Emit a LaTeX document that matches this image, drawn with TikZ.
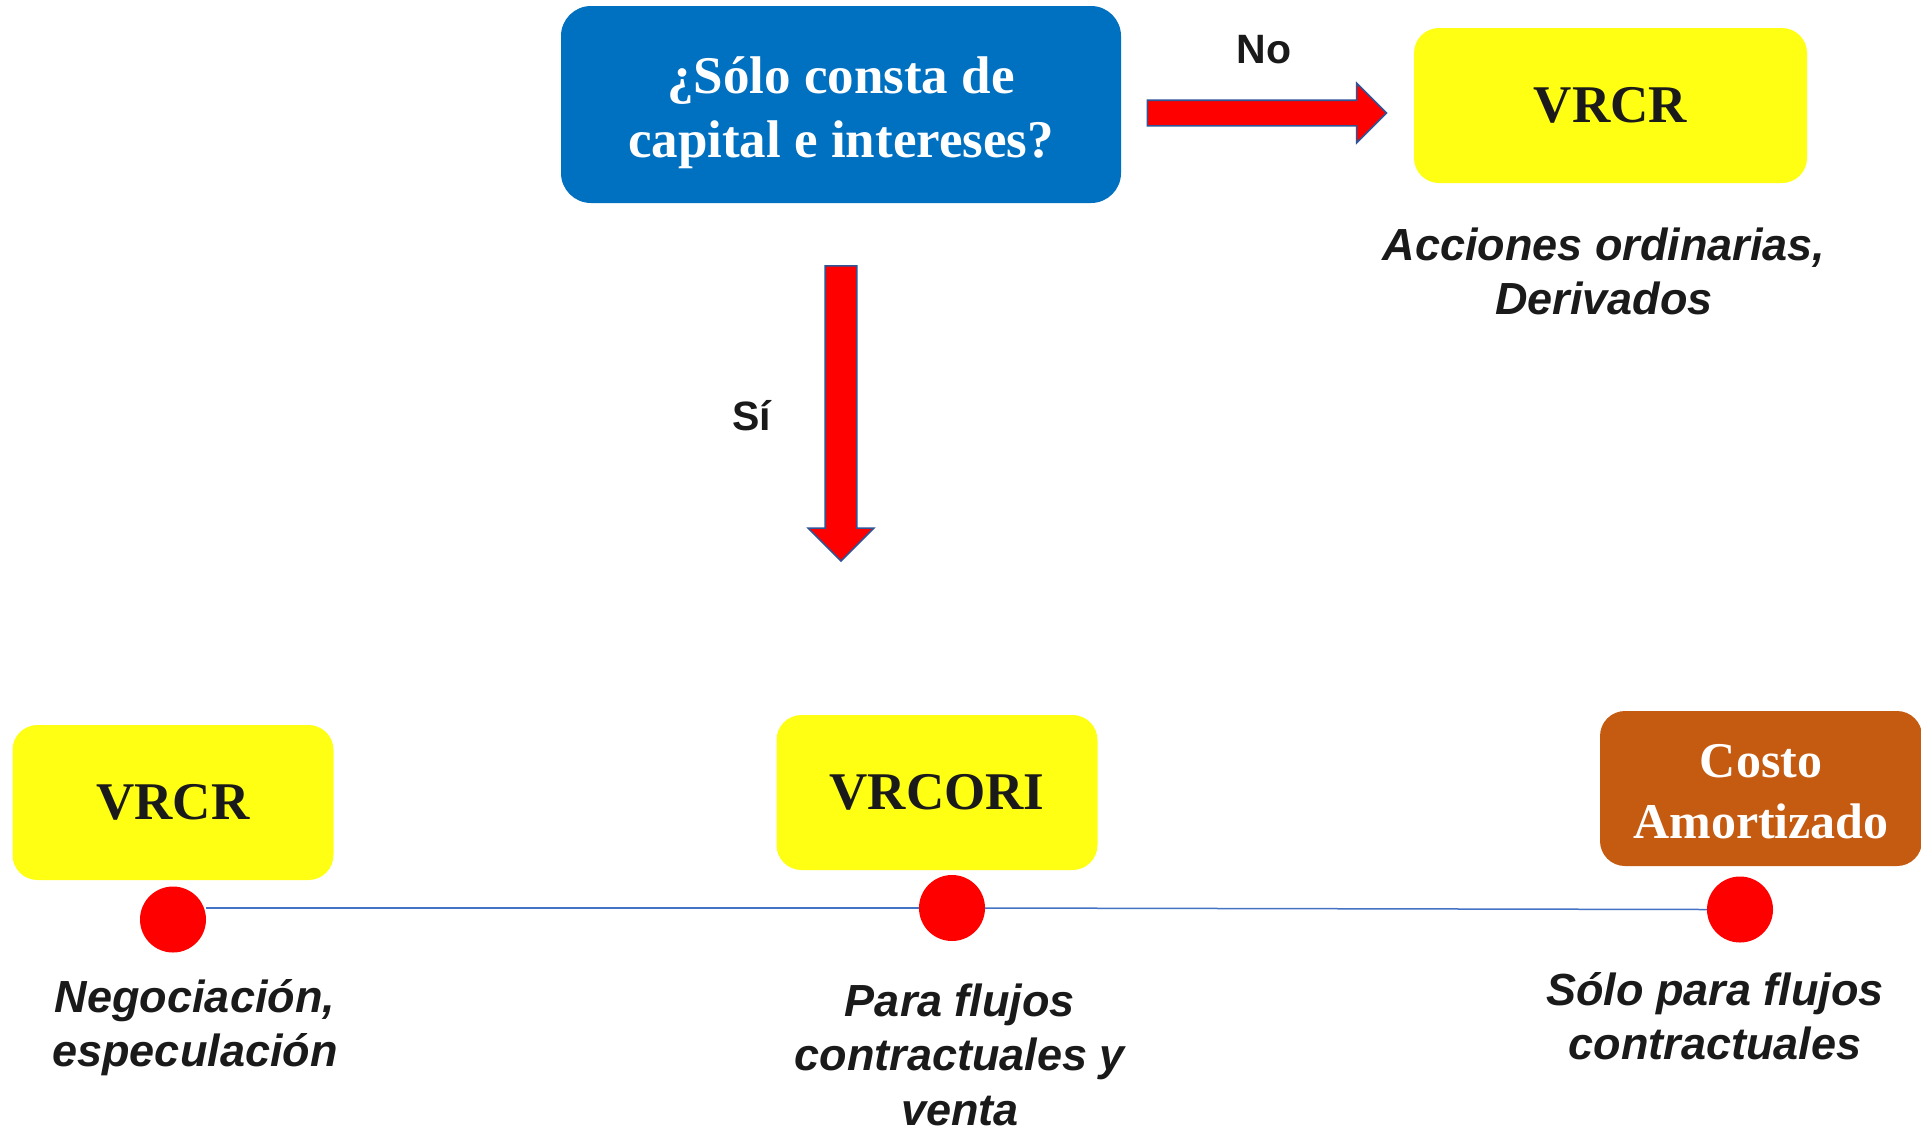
\documentclass[tikz,border=0pt]{standalone}
\usepackage{fontspec}
\setmainfont{Liberation Serif}
\newfontfamily\arialfont{Liberation Sans}
\usetikzlibrary{shapes.arrows}
\definecolor{qblue}{HTML}{0070C0}
\definecolor{vyellow}{RGB}{255,255,20}
\definecolor{cbrown}{HTML}{C55A11}
\definecolor{txt}{HTML}{1A1A1A}
\definecolor{tlinecol}{HTML}{4472C4}
\definecolor{aborder}{HTML}{2F5597}
\newcommand{\mylines}[1]{\begin{tabular}[t]{@{}c@{}}#1\end{tabular}}
\begin{document}
\begin{tikzpicture}[x=1pt,y=-1pt,
  boxbase/.style={rectangle, rounded corners=25pt, inner sep=0pt, minimum height=155pt},
  ybox/.style={boxbase, fill=vyellow, minimum width=321pt, text=txt,
    font=\fontsize{53}{59}\selectfont\bfseries},
  bbox/.style={boxbase, fill=cbrown, minimum width=322pt},
  qbox/.style={rectangle, rounded corners=30pt, fill=qblue, minimum width=560pt, minimum height=197pt},
  boxtxt/.style={inner sep=0pt, anchor=base, text=white},
  lbl/.style={font=\arialfont\fontsize{45}{54.5}\selectfont\bfseries\itshape, text=txt, inner sep=0pt, anchor=base},
  yn/.style={font=\arialfont\fontsize{41}{49}\selectfont\bfseries, text=txt, inner sep=0pt, anchor=base},
  dot/.style={circle, fill=red, minimum size=66pt, inner sep=0pt},
  blockarrow/.style={single arrow, fill=red, draw=aborder, line width=1.6pt},
  tl/.style={draw=tlinecol, line width=1.5pt}
]
\useasboundingbox (0,0) rectangle (1921,1128);
\fill[white] (0,0) rectangle (1921,1128);

% question
\node[qbox] (q) at (841,104.5) {};
\node[boxtxt, font=\fontsize{53}{64}\selectfont\bfseries] (qt) at (841,93) {\mylines{¿Sólo consta de\\capital e intereses?}};

% No branch
\node[blockarrow, inner sep=12pt, minimum height=239pt, single arrow head extend=17pt] (ano) at (1260.5,113) {};
\node[yn] (no) at (1264,63) {No};
\node[ybox, minimum width=393pt] (vr1) at (1610.5,105.5) {VRCR};
\node[lbl] (l1) at (1604,260) {\mylines{Acciones ordinarias,\\Derivados}};

% Si branch
\node[blockarrow, inner sep=15pt, shape border rotate=270, minimum height=295pt, single arrow head extend=17pt] (asi) at (841,405.5) {};
\node[yn] (si) at (752,430) {Sí};

% bottom boxes
\node[ybox] (b1) at (173,802.5) {VRCR};
\node[ybox] (b2) at (937,792.5) {VRCORI};
\node[bbox] (b3) at (1761,788.5) {};
\node[boxtxt, font=\fontsize{50}{61}\selectfont\bfseries] (b3t) at (1761,777) {\mylines{Costo\\Amortizado}};

% timeline
\node[dot] (c1) at (173,919.5) {};
\node[dot] (c2) at (952,908) {};
\node[dot] (c3) at (1740,909.5) {};
\draw[tl] (c1.east |- c2.center) -- (c2.west);
\draw[tl] (c2.east) -- (c3.west);

% labels
\node[lbl] (l2) at (195,1012) {\mylines{Negociación,\\especulación}};
\node[lbl] (l3) at (960,1016) {\mylines{Para flujos\\contractuales y\\venta}};
\node[lbl] (l4) at (1715,1005) {\mylines{Sólo para flujos\\contractuales}};
\end{tikzpicture}
\end{document}
